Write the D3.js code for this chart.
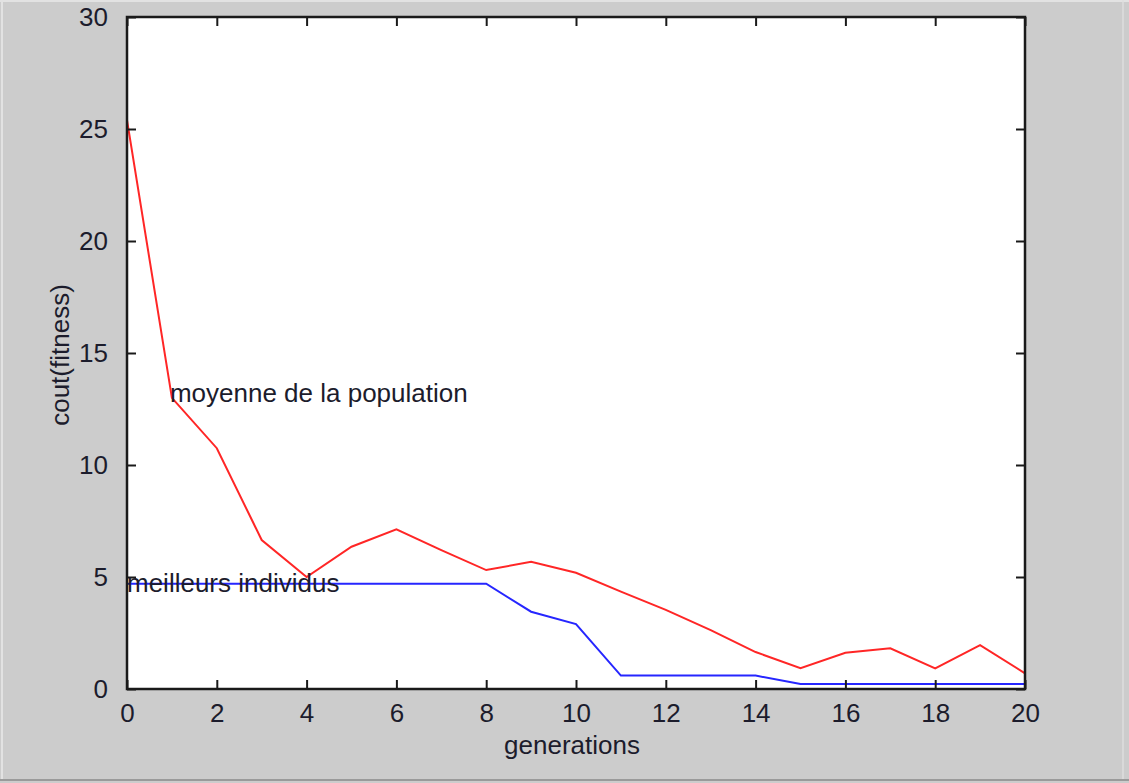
<!DOCTYPE html>
<html><head><meta charset="utf-8">
<script src="https://cdn.jsdelivr.net/npm/d3@7"></script>
<style>html,body{margin:0;padding:0;background:#cccccc;}svg{display:block;}</style>
</head><body>
<svg id="chart" width="1129" height="783"></svg>
<script>
const generations = [0,1,2,3,4,5,6,7,8,9,10,11,12,13,14,15,16,17,18,19,20];
const moyenne = [25.4,13.0,10.75,6.65,5.0,6.35,7.13,6.2,5.31,5.68,5.19,4.35,3.53,2.63,1.65,0.93,1.62,1.82,0.92,1.96,0.7];
const meilleurs = [4.7,4.7,4.7,4.7,4.7,4.7,4.7,4.7,4.7,3.45,2.9,0.6,0.6,0.6,0.6,0.22,0.22,0.22,0.22,0.22,0.22];
const xTicks = [0,2,4,6,8,10,12,14,16,18,20];
const yTicks = [0,5,10,15,20,25,30];
const labelMoyenne = {x:1, y:13.2, text:"moyenne de la population"};
const labelMeilleurs = {x:0, y:4.73, text:"meilleurs individus"};

const svg = d3.select("#chart");
const W = 1129, H = 783;
const L = 127, R = 1025, T = 17, B = 689;
const font = "'Liberation Sans', Arial, sans-serif";
const fs = "26px";
const txtCol = "#1c1c2c";

// figure background
svg.append("rect").attr("width",W).attr("height",H).attr("fill","#cccccc");
svg.append("line").attr("x1",0).attr("x2",W).attr("y1",1).attr("y2",1).attr("stroke","#e2e2e2").attr("stroke-width",2);
svg.append("line").attr("x1",2).attr("x2",2).attr("y1",0).attr("y2",780).attr("stroke","#e2e2e2").attr("stroke-width",2);
svg.append("line").attr("x1",1123).attr("x2",1123).attr("y1",0).attr("y2",780).attr("stroke","#dedede").attr("stroke-width",1.5);
svg.append("line").attr("x1",0).attr("x2",W).attr("y1",780).attr("y2",780).attr("stroke","#9a9a9a").attr("stroke-width",2);

const x = d3.scaleLinear().domain([0,20]).range([L,R]);
const y = d3.scaleLinear().domain([0,30]).range([B,T]);

svg.append("rect").attr("x",L).attr("y",T).attr("width",R-L).attr("height",B-T).attr("fill","#ffffff");

// data lines
const line = d3.line().x((d,i)=>x(generations[i])).y(d=>y(d));
svg.append("path").datum(moyenne).attr("d",line).attr("fill","none").attr("stroke","#ff2626").attr("stroke-width",2);
svg.append("path").datum(meilleurs).attr("d",line).attr("fill","none").attr("stroke","#2626ff").attr("stroke-width",2);

// axes with inward ticks
const tl = 9;
const axB = svg.append("g").attr("transform",`translate(0,${B})`)
  .call(d3.axisBottom(x).tickValues(xTicks).tickSize(-tl).tickPadding(tl+6).tickFormat(d3.format("d")));
const axT = svg.append("g").attr("transform",`translate(0,${T})`)
  .call(d3.axisTop(x).tickValues(xTicks).tickSize(-tl).tickFormat(""));
const axL = svg.append("g").attr("transform",`translate(${L},0)`)
  .call(d3.axisLeft(y).tickValues(yTicks).tickSize(-tl).tickPadding(tl+10).tickFormat(d3.format("d")));
const axR = svg.append("g").attr("transform",`translate(${R},0)`)
  .call(d3.axisRight(y).tickValues(yTicks).tickSize(-tl).tickFormat(""));
[axB,axT,axL,axR].forEach(a=>{
  a.select(".domain").remove();
  a.selectAll(".tick line").attr("stroke","#1a1a1a").attr("stroke-width",2);
  a.selectAll("text").attr("fill",txtCol).style("font-family",font).style("font-size",fs);
});
svg.append("rect").attr("x",L).attr("y",T).attr("width",R-L).attr("height",B-T)
  .attr("fill","none").attr("stroke","#1a1a1a").attr("stroke-width",2.5);

// text annotations
svg.append("text").attr("x",x(labelMoyenne.x)-2).attr("y",y(labelMoyenne.y)).attr("dy","0.35em")
  .style("font-family",font).style("font-size",fs).attr("fill",txtCol).text(labelMoyenne.text);
svg.append("text").attr("x",x(labelMeilleurs.x)).attr("y",y(labelMeilleurs.y)).attr("dy","0.35em")
  .style("font-family",font).style("font-size",fs).attr("fill",txtCol).text(labelMeilleurs.text);

// axis titles
svg.append("text").attr("x",(L+R)/2-4).attr("y",745).attr("dy","0.35em").attr("text-anchor","middle")
  .style("font-family",font).style("font-size",fs).attr("fill",txtCol).text("generations");
svg.append("text").attr("transform","translate(60,355) rotate(-90)").attr("dy","0.35em").attr("text-anchor","middle")
  .style("font-family",font).style("font-size",fs).attr("fill",txtCol).text("cout(fitness)");
</script>
</body></html>
